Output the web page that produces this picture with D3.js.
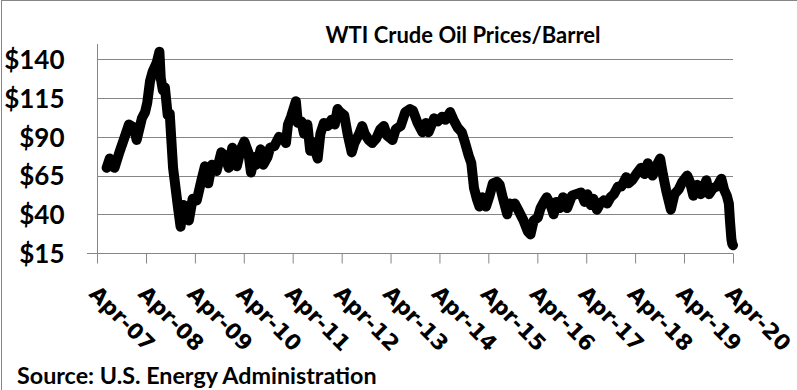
<!DOCTYPE html>
<html>
<head>
<meta charset="utf-8">
<script src="https://cdn.jsdelivr.net/npm/d3@7"></script>
<style>
  body { margin: 0; background: #fff; }
  svg { display: block; }
</style>
</head>
<body>
<script>
// WTI spot price (USD / barrel)
const priceDates = [
  "2007-06-12","2007-07-05","2007-08-10","2007-09-15","2007-10-25","2007-11-25",
  "2008-01-01","2008-01-22","2008-03-01","2008-03-25","2008-04-10","2008-05-01",
  "2008-05-20","2008-06-20","2008-07-10","2008-07-20","2008-08-05","2008-08-20",
  "2008-09-10","2008-09-25","2008-10-20","2008-11-25","2008-12-15","2009-01-05",
  "2009-01-20","2009-02-15","2009-03-15","2009-04-15","2009-05-20","2009-06-15",
  "2009-07-10","2009-08-05","2009-08-20","2009-09-10","2009-10-15","2009-11-10",
  "2009-12-10","2010-01-05","2010-02-08","2010-03-10","2010-04-05","2010-05-05",
  "2010-05-25","2010-06-20","2010-07-05","2010-08-05","2010-08-25","2010-09-25",
  "2010-10-15","2010-11-15","2010-12-20","2011-01-20","2011-02-10","2011-02-25",
  "2011-03-20","2011-04-25","2011-05-10","2011-06-05","2011-06-25","2011-07-20",
  "2011-08-10","2011-08-25","2011-10-05","2011-10-25","2011-11-20","2011-12-20",
  "2012-01-15","2012-02-10","2012-03-01","2012-03-20","2012-04-20","2012-05-15",
  "2012-06-15","2012-07-05","2012-08-10","2012-09-01","2012-09-20","2012-10-20",
  "2012-11-15","2012-12-15","2013-01-15","2013-02-10","2013-03-05","2013-04-15",
  "2013-05-10","2013-06-15","2013-07-20","2013-08-25","2013-09-15","2013-10-20",
  "2013-11-25","2013-12-20","2014-01-10","2014-02-20","2014-03-20","2014-04-20",
  "2014-05-15","2014-06-20","2014-07-15","2014-08-15","2014-09-15","2014-10-10",
  "2014-11-05","2014-11-25","2014-12-15","2015-01-05","2015-01-25","2015-02-15",
  "2015-03-15","2015-04-10","2015-05-05","2015-06-05","2015-06-25","2015-07-20",
  "2015-08-20","2015-09-05","2015-09-25","2015-10-15","2015-11-15","2015-12-20",
  "2016-01-20","2016-02-10","2016-03-05","2016-04-05","2016-04-25","2016-05-20",
  "2016-06-10","2016-07-05","2016-08-01","2016-08-20","2016-09-15","2016-10-10",
  "2016-11-10","2016-12-15","2017-01-15","2017-02-20","2017-03-20","2017-04-10",
  "2017-05-05","2017-05-25","2017-06-20","2017-07-15","2017-08-10","2017-09-05",
  "2017-09-30","2017-10-25","2017-11-25","2017-12-20","2018-01-25","2018-02-10",
  "2018-03-10","2018-04-10","2018-05-15","2018-06-10","2018-07-05","2018-08-10",
  "2018-08-30","2018-10-05","2018-10-25","2018-11-20","2018-12-24","2019-01-20",
  "2019-02-20","2019-03-20","2019-04-25","2019-05-15","2019-06-10","2019-07-10",
  "2019-08-05","2019-09-15","2019-10-05","2019-11-05","2019-12-05","2020-01-05",
  "2020-01-25","2020-02-15","2020-03-01","2020-03-10","2020-03-20","2020-03-26",
  "2020-04-01"
];
const prices = [
  70, 76, 70, 80, 90, 98,
  96, 88, 102, 106, 112, 126,
  132, 138, 145, 128, 120, 122,
  104, 105, 70, 45, 32, 46,
  38, 36, 50, 49, 62, 71,
  60, 72, 70, 68, 80, 78,
  70, 83, 71, 82, 87, 80,
  67, 77, 72, 82, 72, 77,
  83, 84, 90, 89, 86, 98,
  103, 113, 99, 100, 92, 98,
  81, 87, 76, 92, 99, 97,
  101, 98, 108, 106, 104, 92,
  80, 86, 92, 97, 92, 88,
  86, 89, 95, 97, 91, 88,
  95, 97, 106, 108, 107, 99,
  93, 99, 93, 102, 100, 103,
  101, 106, 101, 96, 93, 86,
  78, 73, 57, 50, 45, 51,
  45, 52, 60, 61, 59, 50,
  40, 47, 45, 47, 42, 36,
  29, 27, 36, 38, 44, 48,
  51, 47, 40, 48, 44, 51,
  44, 52, 53, 54, 48, 53,
  46, 50, 43, 47, 49, 47,
  51, 53, 58, 58, 64, 60,
  62, 66, 70, 66, 73, 65,
  70, 76, 66, 55, 43, 53,
  56, 61, 65, 61, 52, 59,
  53, 62, 53, 57, 58, 63,
  56, 52, 47, 35, 24, 21,
  20
];
const yTicks = [15, 40, 65, 90, 115, 140];
const xTickLabels = ["Apr-07","Apr-08","Apr-09","Apr-10","Apr-11","Apr-12","Apr-13",
                     "Apr-14","Apr-15","Apr-16","Apr-17","Apr-18","Apr-19","Apr-20"];

const [w, h] = [797, 390];
const plot = { left: 97, right: 733, top: 44, bottom: 253 };
const grey = '#868686';
const parse = d3.timeParse('%Y-%m-%d');
const data = priceDates.map((d, i) => ({ date: parse(d), price: prices[i] }));

const svg = d3.select('body').append('svg')
    .attr('width', w)
    .attr('height', h);

// chart border (only left and top fall inside the picture)
svg.append('rect')
    .attr('x', 1.5).attr('y', 0.5)
    .attr('width', w + 10).attr('height', h + 10)
    .attr('fill', 'none')
    .attr('stroke', grey);

const xScale = d3.scaleTime()
    .domain([new Date(2007, 3, 1), new Date(2020, 3, 1)])
    .range([plot.left, plot.right]);

const yScale = d3.scaleLinear()
    .domain([15, 150])
    .range([plot.bottom, plot.top]);

// horizontal gridlines
svg.append('g')
    .selectAll('line')
    .data(yTicks.slice(1))
    .join('line')
    .attr('x1', plot.left).attr('x2', plot.right)
    .attr('y1', d => Math.round(yScale(d)) + 0.5)
    .attr('y2', d => Math.round(yScale(d)) + 0.5)
    .attr('stroke', grey);

// x axis
const xTicks = d3.range(14).map(i => new Date(2007 + i, 3, 1));
const xAxis = d3.axisBottom(xScale)
    .tickValues(xTicks)
    .tickSize(10)
    .tickFormat((d, i) => xTickLabels[i]);

const gx = svg.append('g')
    .attr('transform', `translate(0, ${Math.round(plot.bottom) + 0.5})`)
    .call(xAxis);
gx.select('.domain').attr('d', `M87,0H${plot.right}`).attr('stroke', grey);
gx.selectAll('.tick line').attr('stroke', grey);
gx.selectAll('.tick text')
    .attr('font-family', 'DejaVu Sans')
    .attr('font-weight', 'bold')
    .attr('font-size', 21.5)
    .attr('fill', '#000')
    .attr('text-anchor', 'start')
    .attr('x', 0).attr('y', 0).attr('dy', '0.75em')
    .attr('transform', 'translate(2, 30) rotate(45)');

// y axis
const yAxis = d3.axisLeft(yScale)
    .tickValues(yTicks)
    .tickSize(0)
    .tickPadding(33)
    .tickFormat(d => '$' + d);

const gy = svg.append('g')
    .attr('transform', `translate(${plot.left + 0.5}, 0)`)
    .call(yAxis);
gy.select('.domain').attr('d', `M0,${plot.top}V${plot.bottom}`).attr('stroke', grey);
gy.selectAll('.tick text')
    .attr('font-family', 'Lato')
    .attr('font-weight', 'bold')
    .attr('font-size', 26)
    .attr('fill', '#000')
    .attr('dy', '0.36em');

// price line
const line = d3.line()
    .x(d => xScale(d.date))
    .y(d => yScale(d.price))
    .curve(d3.curveLinear);

svg.append('path')
    .datum(data)
    .attr('d', line)
    .attr('fill', 'none')
    .attr('stroke', '#000')
    .attr('stroke-width', 10)
    .attr('stroke-linejoin', 'round')
    .attr('stroke-linecap', 'round');

// title
svg.append('text')
    .attr('x', 463)
    .attr('y', 43)
    .attr('text-anchor', 'middle')
    .attr('font-family', 'Lato')
    .attr('font-weight', 'bold')
    .attr('font-size', 22)
    .text('WTI Crude Oil Prices/Barrel');

// source note
svg.append('text')
    .attr('x', 17)
    .attr('y', 384)
    .attr('font-family', 'Lato')
    .attr('font-weight', 'bold')
    .attr('font-size', 23.3)
    .text('Source: U.S. Energy Administration');
</script>
</body>
</html>
